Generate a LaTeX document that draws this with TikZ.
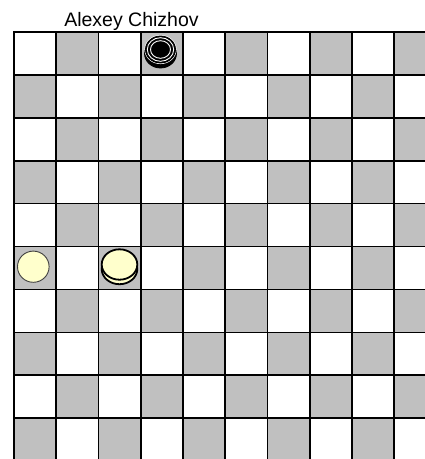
\documentclass[tikz,border=0pt]{standalone}
\usepackage{fontspec}
\setmainfont{Liberation Sans}
\definecolor{sqgray}{RGB}{192,192,192}
\definecolor{manyellow}{RGB}{255,255,204}
\begin{document}
\begin{tikzpicture}[x=1pt,y=-1pt,
  darksq/.style={fill=sqgray},
  gridline/.style={line width=1.6pt,black},
  whiteman/.style={fill=manyellow,draw=black!75,line width=0.9pt},
  whiteking/.style={fill=manyellow,draw=black,line width=1.8pt},
  blackdisk/.style={fill=black,draw=black,line width=0.8pt},
  groove/.style={draw=white,line width=0.9pt}]
\useasboundingbox (0,0) rectangle (425,459);
\clip (0,0) rectangle (425,459);
\fill[white] (0,0) rectangle (425,459);
\def\cw{42.25}
\def\ch{42.9}
\def\ox{14}
\def\oy{32}
% squares
\foreach \r in {0,...,9}{
  \foreach \c in {0,...,9}{
    \pgfmathtruncatemacro\s{mod(\r+\c,2)}
    \ifnum\s=1
      \fill[darksq] ({\ox+\c*\cw},{\oy+\r*\ch}) rectangle ++(\cw,\ch);
    \fi
  }
}
% grid
\foreach \c in {0,...,10}
  \draw[gridline] ({\ox+\c*\cw},\oy) -- ({\ox+\c*\cw},{\oy+10*\ch+2});
\foreach \r in {0,...,10}
  \draw[gridline] ({\ox-0.8},{\oy+\r*\ch}) -- ({\ox+10*\cw+2},{\oy+\r*\ch});
% title
\node[font=\fontsize{19.5}{22}\selectfont,anchor=base] (title) at (131.5,26) {Alexey Chizhov};
% black king
\fill[blackdisk] (160.5,53.5) ellipse [x radius=16,y radius=14.5];
\draw[groove] (160.5,49.5) ellipse [x radius=15.6,y radius=14.1];
\fill[blackdisk] (160.5,49.5) ellipse [x radius=15,y radius=13.5];
\draw[groove] (160.5,49.5) ellipse [x radius=13.2,y radius=11.8];
\draw[groove] (160.5,49.5) ellipse [x radius=10,y radius=8.8];
% white man
\draw[whiteman] (33.3,266.7) ellipse [x radius=15.8,y radius=15.6];
% white king
\draw[whiteking] (119.5,269) ellipse [x radius=17.8,y radius=15.2];
\draw[whiteking] (119.5,264.5) ellipse [x radius=17.8,y radius=15.2];
\end{tikzpicture}
\end{document}
